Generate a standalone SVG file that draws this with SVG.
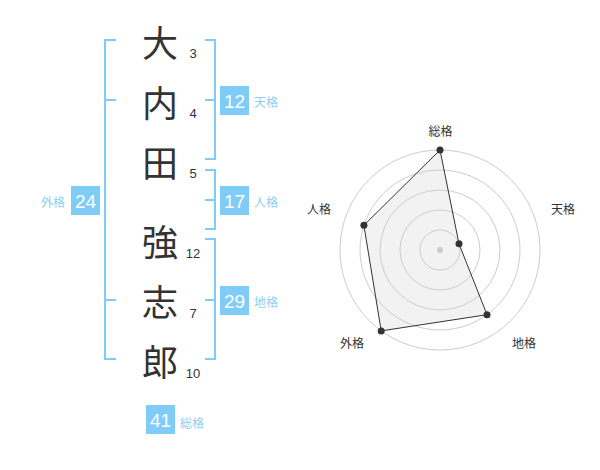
<svg xmlns="http://www.w3.org/2000/svg" width="600" height="470" viewBox="0 0 600 470">
<style>
.k{font-family:"Noto Sans CJK JP","Noto Sans CJK SC",sans-serif;font-size:36px;fill:#333;text-anchor:middle;dominant-baseline:central}
.n{font-family:"Liberation Sans",Arial,sans-serif;font-size:13px;fill:#333;text-anchor:middle;dominant-baseline:central}
.br{fill:none;stroke:#80ccf8;stroke-width:2}
.box{fill:#80ccf8}
.bn{font-family:"Liberation Sans",Arial,sans-serif;font-size:19px;fill:#fff;text-anchor:middle;dominant-baseline:central}
.lb{font-family:"Noto Sans CJK JP","Noto Sans CJK SC",sans-serif;font-size:12px;fill:#8ccff5;dominant-baseline:central}
.rl{font-family:"Noto Sans CJK JP","Noto Sans CJK SC",sans-serif;font-size:12px;fill:#333;text-anchor:middle;dominant-baseline:central}
.ring{fill:none;stroke:#cccccc;stroke-width:1}
.pt{fill:#333}
</style>
<rect width="600" height="470" fill="#fff"/>
<g id="name-chars">
<text class="k" x="160" y="41">大</text>
<text class="k" x="160" y="101">内</text>
<text class="k" x="160" y="161">田</text>
<text class="k" x="160" y="240">強</text>
<text class="k" x="160" y="300">志</text>
<text class="k" x="160" y="360">郎</text>
</g>
<g id="strokes">
<text class="n" x="193" y="53">3</text>
<text class="n" x="193" y="113">4</text>
<text class="n" x="193" y="173">5</text>
<text class="n" x="193" y="253">12</text>
<text class="n" x="193" y="313">7</text>
<text class="n" x="193" y="373">10</text>
</g>
<g id="connectors">
<path class="br" d="M116,40 H105 V359 H116 M105,100 H116 M105,300 H116"/>
<path class="br" d="M205,40 H215 V159 H205 M215,100 H205"/>
<path class="br" d="M205,170 H215 V229 H205 M215,200 H205"/>
<path class="br" d="M205,239 H215 V359 H205 M215,300 H205"/>
</g>
<g id="tenkaku">
<rect class="box" x="220" y="86" width="29" height="29"/>
<text class="bn" x="234.5" y="101">12</text>
<text class="lb" x="254" y="101">天格</text>
</g>
<g id="jinkaku">
<rect class="box" x="220" y="186" width="29" height="29"/>
<text class="bn" x="234.5" y="201">17</text>
<text class="lb" x="254" y="201">人格</text>
</g>
<g id="chikaku">
<rect class="box" x="220" y="286" width="29" height="29"/>
<text class="bn" x="234.5" y="301">29</text>
<text class="lb" x="254" y="301">地格</text>
</g>
<g id="gaikaku">
<rect class="box" x="71" y="186" width="29" height="29"/>
<text class="bn" x="85.5" y="201">24</text>
<text class="lb" x="41" y="201">外格</text>
</g>
<g id="soukaku">
<rect class="box" x="146" y="405" width="29" height="29"/>
<text class="bn" x="160.5" y="420">41</text>
<text class="lb" x="180" y="422">総格</text>
</g>
<g id="radar">
<polygon points="440,150 459,243.8 487,314.7 381.2,330.9 363.9,225.3" fill="#f2f2f2" stroke="none"/>
<circle class="ring" cx="440" cy="250" r="20"/>
<circle class="ring" cx="440" cy="250" r="40"/>
<circle class="ring" cx="440" cy="250" r="60"/>
<circle class="ring" cx="440" cy="250" r="80"/>
<circle class="ring" cx="440" cy="250" r="100"/>
<circle cx="440" cy="250" r="3" fill="#cccccc"/>
<polygon points="440,150 459,243.8 487,314.7 381.2,330.9 363.9,225.3" fill="none" stroke="#333" stroke-width="1"/>
<circle class="pt" cx="440" cy="150" r="3.5"/>
<circle class="pt" cx="459" cy="243.8" r="3.5"/>
<circle class="pt" cx="487" cy="314.7" r="3.5"/>
<circle class="pt" cx="381.2" cy="330.9" r="3.5"/>
<circle class="pt" cx="363.9" cy="225.3" r="3.5"/>
<text class="rl" x="440.5" y="130">総格</text>
<text class="rl" x="563" y="208">天格</text>
<text class="rl" x="524" y="342">地格</text>
<text class="rl" x="352" y="342">外格</text>
<text class="rl" x="319" y="208">人格</text>
</g>
</svg>
